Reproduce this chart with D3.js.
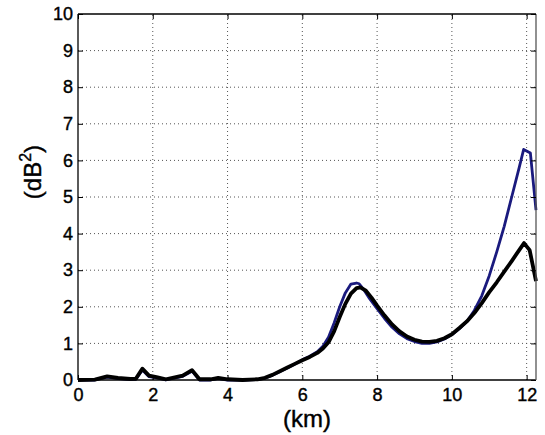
<!DOCTYPE html>
<html><head><meta charset="utf-8">
<script src="https://cdn.jsdelivr.net/npm/d3@7"></script>
<style>body{margin:0;background:#fff;} svg{display:block;}</style>
</head><body>
<script>
// Data (km, dB^2)
const xBlack = [0.0,0.45,0.78,1.07,1.4,1.55,1.72,1.9,2.1,2.35,2.8,3.05,3.25,3.55,3.75,4.0,4.4,4.8,5.0,5.2,5.4,5.6,5.8,6.0,6.2,6.4,6.55,6.7,6.85,7.0,7.15,7.3,7.45,7.55,7.7,7.85,8.0,8.2,8.4,8.6,8.8,9.0,9.2,9.4,9.6,9.8,10.0,10.2,10.4,10.6,10.8,11.0,11.2,11.4,11.6,11.8,11.93,12.08,12.25];
const yBlack = [0.0,0.01,0.1,0.06,0.03,0.04,0.31,0.12,0.08,0.02,0.12,0.27,0.02,0.02,0.06,0.02,0.0,0.02,0.06,0.14,0.24,0.34,0.44,0.54,0.63,0.74,0.86,1.03,1.33,1.72,2.08,2.36,2.51,2.53,2.44,2.25,2.03,1.76,1.52,1.33,1.19,1.1,1.05,1.04,1.07,1.14,1.25,1.42,1.6,1.83,2.1,2.4,2.67,2.96,3.25,3.55,3.74,3.55,2.7];
const xBlue = [0.0,0.45,0.78,1.07,1.4,1.55,1.72,1.9,2.1,2.35,2.8,3.05,3.25,3.55,3.75,4.0,4.4,4.8,5.0,5.2,5.4,5.6,5.8,6.0,6.2,6.4,6.55,6.7,6.85,7.0,7.15,7.3,7.45,7.52,7.65,7.8,8.0,8.2,8.4,8.6,8.8,9.0,9.2,9.4,9.6,9.8,10.0,10.2,10.4,10.6,10.8,11.0,11.2,11.4,11.6,11.8,11.92,12.1,12.25];
const yBlue = [0.0,0.0,0.08,0.04,0.01,0.02,0.27,0.09,0.06,0.0,0.1,0.24,0.0,0.0,0.04,0.0,0.0,0.01,0.05,0.13,0.23,0.33,0.44,0.55,0.65,0.77,0.92,1.17,1.56,2.0,2.38,2.62,2.65,2.63,2.46,2.22,1.95,1.68,1.44,1.26,1.13,1.05,1.0,1.0,1.04,1.12,1.24,1.4,1.6,1.9,2.3,2.85,3.5,4.2,5.0,5.8,6.3,6.2,4.64];
const xTicks = [0,2,4,6,8,10,12];
const yTicks = [0,1,2,3,4,5,6,7,8,9,10];
const xLabel = "(km)";
const yLabelMain = "(dB";
const yLabelSup = "2";
const yLabelEnd = ")";

const W = 545, H = 435;
const m = {left:78, right:9, top:14, bottom:55};
const svg = d3.select("body").append("svg").attr("width",W).attr("height",H);
const x = d3.scaleLinear().domain([0,12.25]).range([m.left, W-m.right]);
const y = d3.scaleLinear().domain([0,10]).range([H-m.bottom, m.top]);
const font = "Liberation Sans, Arial, Helvetica, sans-serif";

// grid
const g = svg.append("g");
g.selectAll(".gx").data(xTicks.filter(d=>d>0)).enter().append("line")
 .attr("x1",d=>x(d)).attr("x2",d=>x(d)).attr("y1",y(0)).attr("y2",y(10))
 .attr("stroke","#555").attr("stroke-width",1).attr("stroke-dasharray","1,3");
g.selectAll(".gy").data(yTicks.filter(d=>d>0&&d<10)).enter().append("line")
 .attr("x1",x(0)).attr("x2",x(12.25)).attr("y1",d=>y(d)).attr("y2",d=>y(d))
 .attr("stroke","#555").attr("stroke-width",1).attr("stroke-dasharray","1,3");

// lines
const line = (xs,ys)=>d3.line().x((d,i)=>x(xs[i])).y((d,i)=>y(ys[i]))(xs);
svg.append("path").attr("d",line(xBlue,yBlue)).attr("fill","none")
 .attr("stroke","#1a1a7e").attr("stroke-width",2.8).attr("stroke-linejoin","round");
svg.append("path").attr("d",line(xBlack,yBlack)).attr("fill","none")
 .attr("stroke","#000").attr("stroke-width",3.8).attr("stroke-linejoin","round");

// axes
const axB = d3.axisBottom(x).tickValues(xTicks).tickSize(-5).tickPadding(8).tickFormat(d3.format("d"));
const axL = d3.axisLeft(y).tickValues(yTicks).tickSize(-5).tickPadding(5).tickFormat(d3.format("d"));
const axT = d3.axisTop(x).tickValues(xTicks).tickSize(-5).tickFormat("");
const axR = d3.axisRight(y).tickValues(yTicks).tickSize(-5).tickFormat("");
function style(sel){
  sel.select(".domain").attr("stroke","#000").attr("stroke-width",1.3);
  sel.selectAll(".tick line").attr("stroke","#000");
  sel.selectAll("text").attr("font-family",font).attr("font-size",18).attr("fill","#000")
    .attr("stroke","#000").attr("stroke-width",0.4);
}
svg.append("g").attr("transform",`translate(0,${y(0)})`).call(axB).call(style).call(s=>s.select(".domain").attr("d",`M${x(0)},0H${x(12.25)}`));
svg.append("g").attr("transform",`translate(${x(0)},0)`).call(axL).call(style).call(s=>s.select(".domain").attr("d",`M0,${y(0)}V${y(10)}`));
svg.append("g").attr("transform",`translate(0,${y(10)})`).call(axT).call(style).call(s=>s.select(".domain").attr("d",`M${x(0)},0H${x(12.25)}`));
svg.append("g").attr("transform",`translate(${x(12.25)},0)`).call(axR).call(style).call(s=>s.select(".domain").attr("d",`M0,${y(0)}V${y(10)}`).attr("stroke","#555"));

// labels
svg.append("text").attr("x",(x(0)+x(12.25))/2).attr("y",427).attr("text-anchor","middle")
 .attr("font-family",font).attr("font-size",24).attr("stroke","#000").attr("stroke-width",0.4).text(xLabel);
const yl = svg.append("text").attr("transform",`translate(41,172) rotate(-90)`).attr("text-anchor","middle")
 .attr("font-family",font).attr("font-size",24).attr("stroke","#000").attr("stroke-width",0.4);
yl.append("tspan").text(yLabelMain);
yl.append("tspan").attr("font-size",16).attr("dy",-10).text(yLabelSup);
yl.append("tspan").attr("dy",10).text(yLabelEnd);
</script>
</body></html>
